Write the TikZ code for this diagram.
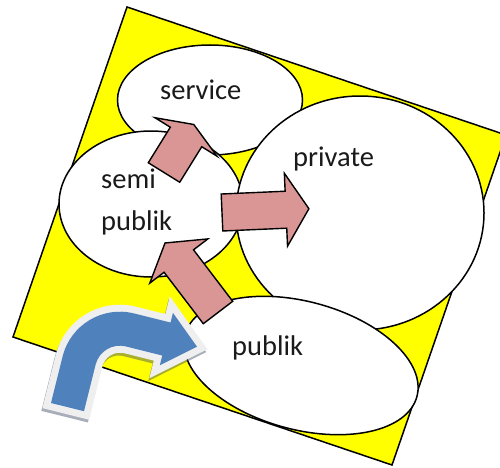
\documentclass[tikz,border=0pt]{standalone}
\usepackage{fontspec}
\setmainfont{Carlito}
\usetikzlibrary{shapes.geometric}
\definecolor{boardyellow}{HTML}{FFFF00}
\definecolor{arrowpink}{HTML}{D99694}
\definecolor{arrowblue}{HTML}{4F81BD}
\definecolor{glowgray}{HTML}{EFEFEF}
\definecolor{shadowtone}{rgb}{0.25,0.30,0.40}
\definecolor{inktext}{HTML}{1A1A1A}

% block arrow: #1 tail midpoint, #2 direction angle, #3 total length, #4 head length
\newcommand\blockarr[4]{%
  \begin{scope}[shift={#1},rotate=#2]
    \draw[pinkarrow] (0,-18.5) -- ({#3-#4},-18.5) -- ({#3-#4},-36.5) -- (#3,0)
      -- ({#3-#4},36.5) -- ({#3-#4},18.5) -- (0,18.5) -- cycle;
  \end{scope}}

\begin{document}
\begin{tikzpicture}[x=1pt,y=1pt,
  bubble/.style={ellipse, draw=black, line width=1.5pt, fill=white, inner sep=0pt},
  pinkarrow/.style={fill=arrowpink, draw=black, line width=1.4pt, line join=miter},
  lbl/.style={font=\fontsize{28.5}{30}\selectfont, text=inktext, inner sep=0pt, anchor=base west},
  bentshape/.style={insert path={(0,0) -- (0,48) arc[start angle=180,end angle=90,radius=59]
     -- (96.5,107) -- (96.5,117) -- (128,90) -- (96.5,63) -- (96.5,73) -- (59,73)
     arc[start angle=90,end angle=180,radius=25] -- (34,0) -- cycle}}]
\useasboundingbox (0,0) rectangle (500,467);
\clip (0,0) rectangle (500,467);

% tilted yellow board
\draw[fill=boardyellow, line width=1.5pt, line join=miter]
  (127,460) coordinate (bT) -- (506,332) coordinate (bR) -- (392,2) coordinate (bB)
  -- (13,130) coordinate (bL) -- cycle;

% bubbles
\node[bubble, minimum width=185, minimum height=110] (service) at (210,367) {};
\node[bubble, minimum width=184, minimum height=146] (semi) at (151,263) {};
\node[bubble, minimum width=248, minimum height=234] (private) at (360,254) {};
\node[bubble, minimum width=240, minimum height=128, rotate=-15] (publik) at (301,101.5) {};

% labels
\node[lbl] (tservice) at (160,368) {service};
\node[lbl] (tprivate) at (293,301) {private};
\node[lbl] (tsemi) at (101,279) {semi};
\node[lbl] (tsemipub) at (101,237) {publik};
\node[lbl] (tpublik) at (232,112) {publik};

% flows between the bubbles
\coordinate (a1) at (164,294.5);
\coordinate (a2) at (222,254.5);
\coordinate (a3) at (218,154.5);
\blockarr{(a1)}{58.2}{56.5}{14.7}
\blockarr{(a2)}{2.5}{87}{23}
\blockarr{(a3)}{127.3}{87.4}{22.7}

% entry arrow with glow and shadow
\begin{scope}[shift={(51,64)},rotate=-14]
  \begin{scope}[transparency group, opacity=0.45, shift={(-0.5,-3)}]
    \path[bentshape, fill=shadowtone, draw=shadowtone, line width=14pt, line join=miter];
  \end{scope}
  \path[bentshape, fill=glowgray, draw=glowgray, line width=14pt, line join=miter];
  \path[bentshape, fill=arrowblue];
\end{scope}
\end{tikzpicture}
\end{document}
